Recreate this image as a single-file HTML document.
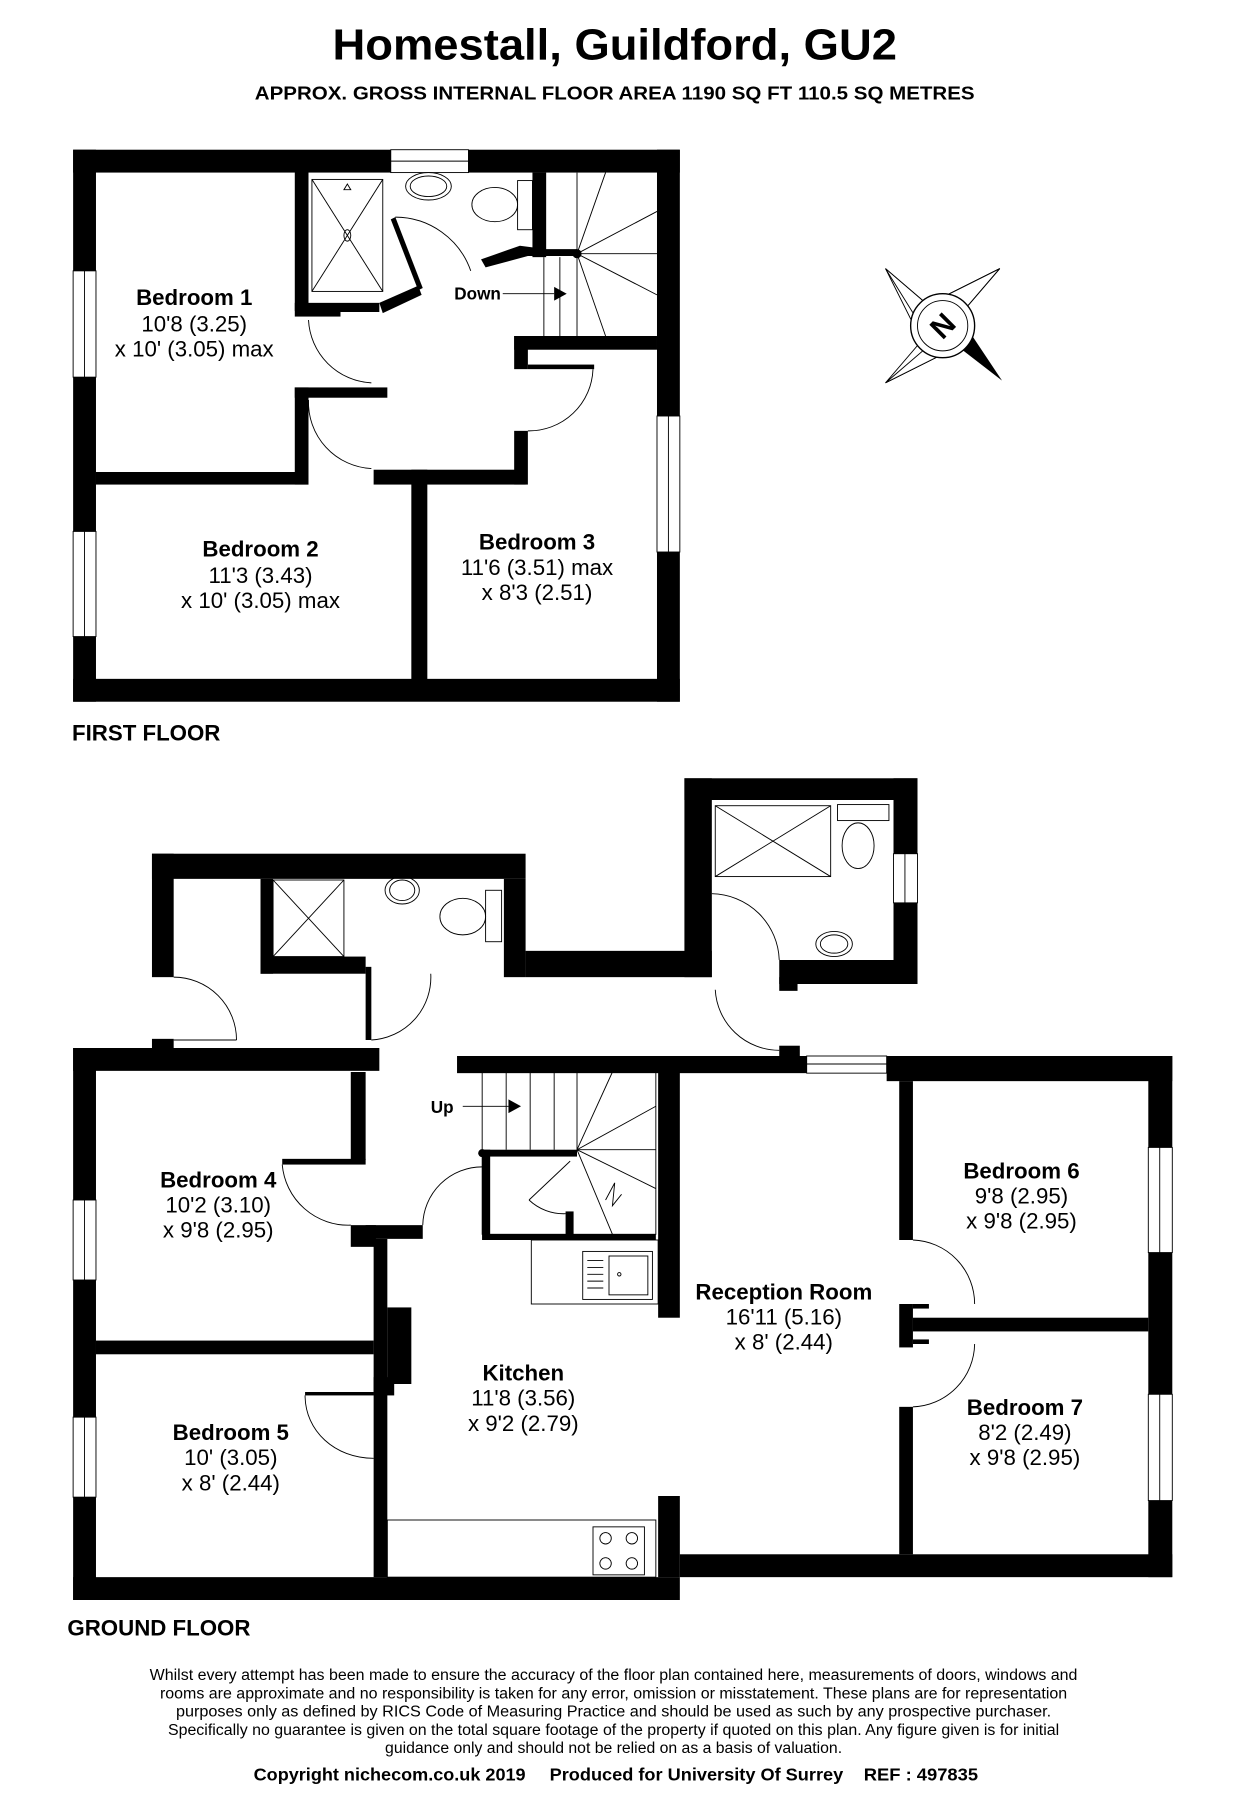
<!DOCTYPE html>
<html><head><meta charset="utf-8"><style>
html,body{margin:0;padding:0;background:#fff;}
svg{display:block;}
text{font-family:"Liberation Sans",Arial,sans-serif;fill:#000;}
.b{font-weight:bold;font-size:19.5px;}
.r{font-size:19.5px;}
.t{stroke:#000;stroke-width:0.8;fill:none;}
.w{fill:#fff;stroke:#000;stroke-width:0.8;}
</style></head><body>
<svg width="1234" height="1800" viewBox="0 0 1080 1575" preserveAspectRatio="none" xmlns="http://www.w3.org/2000/svg">
<rect width="1080" height="1575" fill="#fff"/>
<text x="538" y="52" text-anchor="middle" font-weight="bold" font-size="38" textLength="494" lengthAdjust="spacingAndGlyphs">Homestall, Guildford, GU2</text>
<text x="538" y="87" text-anchor="middle" font-weight="bold" font-size="16.5" textLength="630" lengthAdjust="spacingAndGlyphs">APPROX. GROSS INTERNAL FLOOR AREA 1190 SQ FT 110.5 SQ METRES</text>

<!-- FIRST FLOOR -->
<g fill="#000">
<rect x="64" y="131" width="278" height="20"/>
<rect x="410" y="131" width="185" height="20"/>
<rect x="64" y="131" width="20" height="106"/>
<rect x="64" y="330" width="20" height="135"/>
<rect x="64" y="557" width="20" height="57"/>
<rect x="575" y="131" width="20" height="233"/>
<rect x="575" y="483" width="20" height="131"/>
<rect x="64" y="594" width="531" height="20"/>
<rect x="258" y="150" width="12" height="122"/>
<rect x="258" y="265" width="74" height="8"/>
<polygon points="332,265 366,250 369,258 335,274"/>
<rect x="258" y="273" width="40" height="4"/>
<rect x="84" y="413" width="186" height="11"/>
<rect x="258" y="339" width="12" height="85"/>
<rect x="258" y="339" width="81" height="9"/>
<rect x="327" y="411" width="133" height="13"/>
<rect x="360" y="411" width="14" height="184"/>
<rect x="450" y="294" width="12" height="29"/>
<rect x="450" y="377" width="12" height="47"/>
<rect x="450" y="294" width="125" height="12"/>
<rect x="462" y="319" width="58" height="4"/>
<rect x="466" y="151" width="12" height="74"/>
<polygon points="478,218 505,218 505,224 462,224 425,234 421,227 455,215"/>
<polygon points="342,192 346,190 370,252 366,254"/>
</g>
<rect x="342" y="131" width="68" height="20" class="w"/><line x1="342" y1="141" x2="410" y2="141" class="t"/>
<rect x="64" y="237" width="20" height="93" class="w"/><line x1="74" y1="237" x2="74" y2="330" class="t"/>
<rect x="64" y="465" width="20" height="92" class="w"/><line x1="74" y1="465" x2="74" y2="557" class="t"/>
<rect x="575" y="364" width="20" height="119" class="w"/><line x1="585" y1="364" x2="585" y2="483" class="t"/>
<rect x="273" y="157" width="62" height="98" class="t"/>
<line x1="273" y1="157" x2="335" y2="255" class="t"/><line x1="335" y1="157" x2="273" y2="255" class="t"/>
<ellipse cx="304" cy="206" rx="3" ry="5" class="t"/>
<polygon points="301,166 307,166 304,161" class="t"/>
<ellipse cx="375" cy="163" rx="20" ry="12" class="t"/><ellipse cx="375" cy="163" rx="16" ry="9" class="t"/>
<rect x="453" y="158" width="13" height="43" class="t"/>
<ellipse cx="433" cy="179" rx="20" ry="15" class="t"/>
<path d="M346,190 A70,70 0 0 1 412,237" class="t"/>
<path d="M270,280 A58,58 0 0 0 325,335" class="t"/>
<path d="M270,350 A58,58 0 0 0 325,410" class="t"/>
<path d="M519,323 A56,56 0 0 1 462,377" class="t"/>
<g class="t">
<line x1="505" y1="151" x2="505" y2="294"/><line x1="476" y1="225" x2="476" y2="294"/><line x1="490" y1="225" x2="490" y2="294"/>
<line x1="505" y1="222" x2="530" y2="151"/><line x1="505" y1="222" x2="575" y2="185"/><line x1="505" y1="222" x2="575" y2="222"/><line x1="505" y1="222" x2="575" y2="258"/><line x1="505" y1="222" x2="530" y2="294"/>
<line x1="440" y1="257" x2="485" y2="257"/>
</g>
<polygon points="485,251 496,257 485,263" fill="#000"/>
<circle cx="505" cy="222" r="4" fill="#000"/>
<text x="418" y="262" text-anchor="middle" font-weight="bold" font-size="15">Down</text>

<text x="170" y="267" text-anchor="middle" class="b">Bedroom 1</text>
<text x="170" y="290" text-anchor="middle" class="r">10'8 (3.25)</text>
<text x="170" y="312" text-anchor="middle" class="r">x 10' (3.05) max</text>
<text x="228" y="487" text-anchor="middle" class="b">Bedroom 2</text>
<text x="228" y="510" text-anchor="middle" class="r">11'3 (3.43)</text>
<text x="228" y="532" text-anchor="middle" class="r">x 10' (3.05) max</text>
<text x="470" y="481" text-anchor="middle" class="b">Bedroom 3</text>
<text x="470" y="503" text-anchor="middle" class="r">11'6 (3.51) max</text>
<text x="470" y="525" text-anchor="middle" class="r">x 8'3 (2.51)</text>
<text x="63" y="648" class="b">FIRST FLOOR</text>

<g transform="translate(825,285)">
<polygon points="-50,-50 -8,-14 -22,6" class="t"/><polygon points="50,-50 14,-8 -6,-22" class="t"/>
<polygon points="-50,50 -14,8 6,22" class="t"/>
<polygon points="-50,-50 -14,8 -8,-14" class="t"/><polygon points="50,-50 -6,-22 14,-8" class="t"/>
<polygon points="-50,50 6,22 -8,14" class="t"/>
<polygon points="52,48 8,14 20,0" fill="#000"/>
<circle r="28" fill="#fff" stroke="#000" stroke-width="1.2"/>
<circle r="22" fill="#fff" stroke="#000" stroke-width="0.8"/>
<text x="0" y="9" text-anchor="middle" font-weight="bold" font-size="26" transform="rotate(-45)">N</text>
</g>

<!-- GROUND FLOOR -->
<g fill="#000">
<rect x="133" y="747" width="327" height="22"/>
<rect x="133" y="747" width="19" height="108"/>
<rect x="64" y="917" width="268" height="20"/>
<rect x="133" y="909" width="19" height="12"/>
<rect x="64" y="917" width="20" height="133"/>
<rect x="64" y="1120" width="20" height="120"/>
<rect x="64" y="1310" width="20" height="90"/>
<rect x="400" y="924" width="306" height="15"/>
<rect x="776" y="924" width="250" height="22"/>
<rect x="1005" y="924" width="21" height="80"/>
<rect x="1005" y="1096" width="21" height="124"/>
<rect x="1005" y="1313" width="21" height="67"/>
<rect x="595" y="1360" width="431" height="20"/>
<rect x="64" y="1380" width="531" height="20"/>
<rect x="576" y="938" width="19" height="215"/>
<rect x="576" y="1309" width="19" height="71"/>
<rect x="787" y="946" width="12" height="139"/>
<rect x="787" y="1231" width="12" height="129"/>
<rect x="787" y="1141" width="12" height="38"/>
<rect x="799" y="1153" width="206" height="12"/>
<rect x="799" y="1141" width="14" height="4"/><rect x="799" y="1172" width="14" height="4"/>
<rect x="307" y="938" width="13" height="77"/>
<rect x="247" y="1014" width="73" height="5"/>
<rect x="307" y="1072" width="22" height="19"/>
<rect x="320" y="1072" width="50" height="12"/>
<rect x="327" y="1084" width="12" height="296"/>
<rect x="84" y="1173" width="243" height="12"/>
<rect x="339" y="1144" width="21" height="67"/>
<rect x="327" y="1205" width="18" height="16"/>
<rect x="267" y="1218" width="60" height="3"/>
<rect x="422" y="1006" width="83" height="6"/>
<rect x="422" y="1006" width="7" height="79"/>
<rect x="422" y="1080" width="152" height="5"/>
<rect x="495" y="1060" width="7" height="25"/>
<rect x="460" y="832" width="163" height="23"/>
<rect x="228" y="837" width="92" height="15"/>
<rect x="228" y="769" width="11" height="83"/>
<rect x="441" y="769" width="19" height="86"/>
<rect x="320" y="846" width="5" height="64"/>
<rect x="599" y="681" width="204" height="19"/>
<rect x="599" y="681" width="24" height="174"/>
<rect x="782" y="681" width="21" height="66"/>
<rect x="782" y="790" width="21" height="71"/>
<rect x="682" y="840" width="121" height="21"/>
<rect x="682" y="855" width="16" height="12"/>
<rect x="682" y="915" width="18" height="15"/>
</g>
<rect x="64" y="1050" width="20" height="70" class="w"/><line x1="74" y1="1050" x2="74" y2="1120" class="t"/>
<rect x="64" y="1240" width="20" height="70" class="w"/><line x1="74" y1="1240" x2="74" y2="1310" class="t"/>
<rect x="706" y="924" width="70" height="15" class="w"/><line x1="706" y1="931" x2="776" y2="931" class="t"/>
<rect x="1005" y="1004" width="21" height="92" class="w"/><line x1="1015" y1="1004" x2="1015" y2="1096" class="t"/>
<rect x="1005" y="1220" width="21" height="93" class="w"/><line x1="1015" y1="1220" x2="1015" y2="1313" class="t"/>
<rect x="782" y="747" width="21" height="43" class="w"/><line x1="792" y1="747" x2="792" y2="790" class="t"/>
<g class="t">
<path d="M152,855 A55,55 0 0 1 207,910"/><line x1="152" y1="910" x2="207" y2="910"/>
<path d="M377,852 A55,55 0 0 1 325,910"/>
<path d="M623,782 A60,60 0 0 1 682,840"/>
<path d="M626,866 A56,56 0 0 0 682,919"/>
<path d="M247,1019 A58,58 0 0 0 307,1072"/>
<path d="M370,1072 A52,52 0 0 1 422,1021"/>
<path d="M267,1221 C267,1252 293,1276 327,1276"/>
<path d="M799,1085 A56,56 0 0 1 853,1141"/>
<path d="M799,1231 A56,56 0 0 0 853,1176"/>
<rect x="422" y="938" width="152" height="142"/>
<line x1="443" y1="938" x2="443" y2="1006"/><line x1="464" y1="938" x2="464" y2="1006"/><line x1="485" y1="938" x2="485" y2="1006"/><line x1="505" y1="938" x2="505" y2="1006"/>
<line x1="505" y1="1006" x2="536" y2="938"/><line x1="505" y1="1006" x2="574" y2="968"/><line x1="505" y1="1006" x2="574" y2="1006"/><line x1="505" y1="1006" x2="574" y2="1040"/><line x1="505" y1="1006" x2="536" y2="1080"/>
<polyline points="530,1050 538,1035 536,1055 544,1045"/>
<line x1="499" y1="1016" x2="463" y2="1050"/>
<path d="M463,1050 A44,44 0 0 0 495,1062"/>
<line x1="405" y1="968" x2="445" y2="968"/>
<rect x="465" y="1085" width="111" height="56"/>
<rect x="510" y="1095" width="61" height="42"/><rect x="533" y="1099" width="34" height="34"/>
<line x1="514" y1="1103" x2="528" y2="1103"/><line x1="514" y1="1109" x2="528" y2="1109"/><line x1="514" y1="1115" x2="528" y2="1115"/><line x1="514" y1="1121" x2="528" y2="1121"/><line x1="514" y1="1127" x2="528" y2="1127"/>
<circle cx="542" cy="1115" r="1.5"/>
<rect x="339" y="1330" width="235" height="50"/>
<rect x="519" y="1336" width="45" height="42"/>
<circle cx="530" cy="1346" r="5"/><circle cx="553" cy="1346" r="5"/><circle cx="530" cy="1368" r="5"/><circle cx="553" cy="1368" r="5"/>
<rect x="626" y="705" width="101" height="62"/><line x1="626" y1="705" x2="727" y2="767"/><line x1="727" y1="705" x2="626" y2="767"/>
<rect x="733" y="704" width="45" height="14"/><ellipse cx="751" cy="740" rx="14" ry="20"/>
<ellipse cx="730" cy="826" rx="16" ry="11"/><ellipse cx="730" cy="826" rx="12" ry="8"/>
<rect x="239" y="770" width="62" height="67"/><line x1="239" y1="770" x2="301" y2="837"/><line x1="301" y1="770" x2="239" y2="837"/>
<ellipse cx="352" cy="779" rx="15" ry="12"/><ellipse cx="352" cy="779" rx="11" ry="9"/>
<rect x="425" y="779" width="14" height="45"/><ellipse cx="405" cy="802" rx="20" ry="16"/>
</g>
<circle cx="422" cy="1009" r="3.5" fill="#000"/>
<polygon points="445,962 456,968 445,974" fill="#000"/>
<text x="387" y="974" text-anchor="middle" font-weight="bold" font-size="15">Up</text>

<text x="191" y="1039" text-anchor="middle" class="b">Bedroom 4</text>
<text x="191" y="1061" text-anchor="middle" class="r">10'2 (3.10)</text>
<text x="191" y="1083" text-anchor="middle" class="r">x 9'8 (2.95)</text>
<text x="202" y="1260" text-anchor="middle" class="b">Bedroom 5</text>
<text x="202" y="1282" text-anchor="middle" class="r">10' (3.05)</text>
<text x="202" y="1304" text-anchor="middle" class="r">x 8' (2.44)</text>
<text x="458" y="1208" text-anchor="middle" class="b">Kitchen</text>
<text x="458" y="1230" text-anchor="middle" class="r">11'8 (3.56)</text>
<text x="458" y="1252" text-anchor="middle" class="r">x 9'2 (2.79)</text>
<text x="686" y="1137" text-anchor="middle" class="b">Reception Room</text>
<text x="686" y="1159" text-anchor="middle" class="r">16'11 (5.16)</text>
<text x="686" y="1181" text-anchor="middle" class="r">x 8' (2.44)</text>
<text x="894" y="1031" text-anchor="middle" class="b">Bedroom 6</text>
<text x="894" y="1053" text-anchor="middle" class="r">9'8 (2.95)</text>
<text x="894" y="1075" text-anchor="middle" class="r">x 9'8 (2.95)</text>
<text x="897" y="1238" text-anchor="middle" class="b">Bedroom 7</text>
<text x="897" y="1260" text-anchor="middle" class="r">8'2 (2.49)</text>
<text x="897" y="1282" text-anchor="middle" class="r">x 9'8 (2.95)</text>
<text x="59" y="1431" class="b">GROUND FLOOR</text>

<g font-size="13.5" text-anchor="middle">
<text x="537" y="1470" textLength="812" lengthAdjust="spacingAndGlyphs">Whilst every attempt has been made to ensure the accuracy of the floor plan contained here, measurements of doors, windows and</text>
<text x="537" y="1486" textLength="794" lengthAdjust="spacingAndGlyphs">rooms are approximate and no responsibility is taken for any error, omission or misstatement. These plans are for representation</text>
<text x="537" y="1502" textLength="766" lengthAdjust="spacingAndGlyphs">purposes only as defined by RICS Code of Measuring Practice and should be used as such by any prospective purchaser.</text>
<text x="537" y="1518" textLength="780" lengthAdjust="spacingAndGlyphs">Specifically no guarantee is given on the total square footage of the property if quoted on this plan. Any figure given is for initial</text>
<text x="537" y="1534" textLength="400" lengthAdjust="spacingAndGlyphs">guidance only and should not be relied on as a basis of valuation.</text>
</g>
<g font-weight="bold" font-size="15">
<text x="222" y="1558" textLength="238" lengthAdjust="spacingAndGlyphs">Copyright nichecom.co.uk 2019</text>
<text x="481" y="1558" textLength="257" lengthAdjust="spacingAndGlyphs">Produced for University Of Surrey</text>
<text x="756" y="1558" textLength="100" lengthAdjust="spacingAndGlyphs">REF : 497835</text>
</g>
</svg>
</body></html>
